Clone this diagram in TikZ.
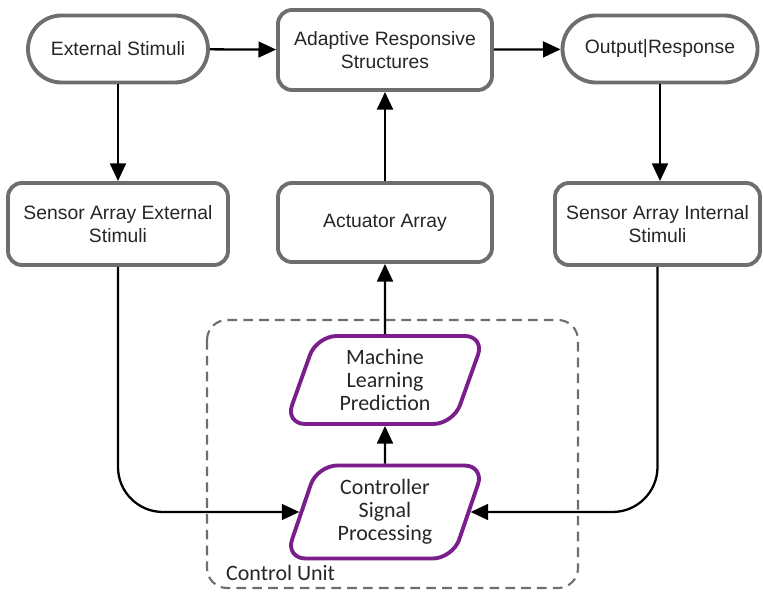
\documentclass[tikz,border=0pt]{standalone}
\usepackage{fontspec}
\setmainfont{Liberation Sans}
\newfontfamily\unitfont{Carlito}
\usetikzlibrary{positioning,arrows.meta,shapes.geometric}

\definecolor{boxgray}{HTML}{6E6E6E}
\definecolor{unitpurple}{HTML}{7A1E8C}

\begin{document}
\begin{tikzpicture}[
		term/.style={rectangle, rounded corners=0.67cm, draw=boxgray, line width=2.2pt,
			text centered, align=center, text=black!85, font=\fontsize{11}{13.5}\selectfont},
		block/.style={rectangle, rounded corners=0.28cm, draw=boxgray, line width=2.2pt,
			text centered, align=center, text=black!85, font=\fontsize{11}{13.5}\selectfont},
		proc/.style={trapezium, trapezium left angle=72, trapezium right angle=108, trapezium stretches=true,
			rounded corners=0.4cm, draw=unitpurple, line width=2.2pt, align=center, text=black!85,
			font=\unitfont\fontsize{12.5}{13}\selectfont},
		link/.style={-{Triangle[length=10pt,width=9pt]}, line width=1.3pt, black}
]
\useasboundingbox (0,0) rectangle (15.26,-11.84);

\node [term, minimum width=3.6cm, minimum height=1.34cm] (Ext) at (2.36,-0.98) {External Stimuli};
\node [block, minimum width=4.28cm, minimum height=1.6cm] (Ars) at (7.7,-1.0) {Adaptive Responsive\\Structures};
\node [term, minimum width=3.9cm, minimum height=1.34cm] (Out) at (13.2,-0.98) {Output|Response};

\node [block, minimum width=4.4cm, minimum height=1.64cm] (SenExt) at (2.36,-4.48) {Sensor Array External\\Stimuli};
\node [block, minimum width=4.28cm, minimum height=1.58cm] (Act) at (7.7,-4.45) {Actuator Array};
\node [block, minimum width=4.1cm, minimum height=1.64cm] (SenInt) at (13.15,-4.48) {Sensor Array Internal\\Stimuli};

\node [proc, minimum width=4cm, minimum height=1.76cm] (Ml) at (7.7,-7.6) {Machine\\Learning\\Prediction};
\node [proc, minimum width=4cm, minimum height=1.86cm] (Csp) at (7.7,-10.24) {Controller\\Signal\\Processing};

\draw [draw=boxgray, line width=1.2pt, dash pattern=on 5.5pt off 3.5pt, rounded corners=0.4cm] (4.14,-6.4) rectangle (11.56,-11.76);
\node [anchor=west, text=black!85, font=\unitfont\fontsize{12.5}{13}\selectfont] (Unit) at (4.4,-11.45) {Control Unit};

\draw [link] (Ext) -- (Ars);
\draw [link] (Ars) -- (Out);
\draw [link] (Ext) -- (SenExt);
\draw [link] (Act) -- (Ars);
\draw [link] (Out.south) -- (Out.south |- SenInt.north);
\draw [link] (Ml) -- (Act);
\draw [link] (Csp) -- (Ml);
\draw [link, rounded corners=0.9cm] (SenExt.south) |- (Csp.west);
\draw [link, rounded corners=0.9cm] (SenInt.south) |- (Csp.east);

\end{tikzpicture}
\end{document}
